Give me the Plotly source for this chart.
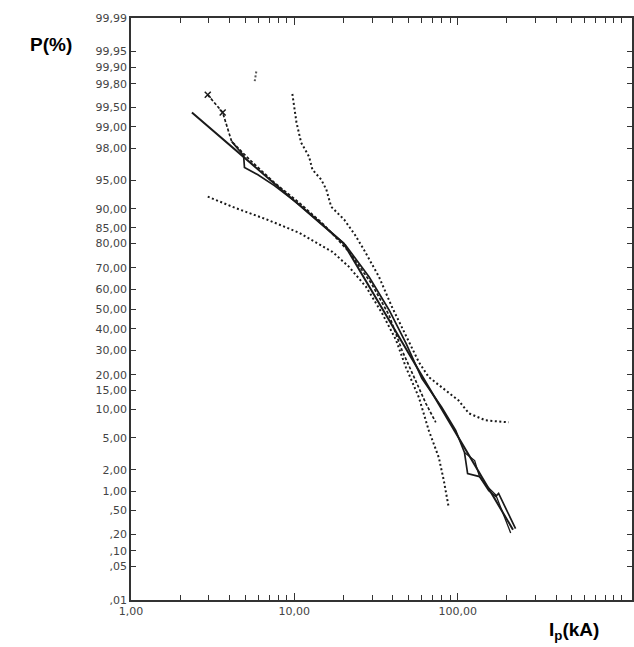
import plotly.graph_objects as go
from statistics import NormalDist

# ---------------- data ----------------
# Y axis: probability scale (percent)
p_ticks = [99.99, 99.95, 99.9, 99.8, 99.5, 99, 98, 95, 90, 85, 80, 70, 60, 50,
           40, 30, 20, 15, 10, 5, 2, 1, 0.5, 0.2, 0.1, 0.05, 0.01]
p_labels = ["99,99", "99,95", "99,90", "99,80", "99,50", "99,00", "98,00", "95,00",
            "90,00", "85,00", "80,00", "70,00", "60,00", "50,00", "40,00", "30,00",
            "20,00", "15,00", "10,00", "5,00", "2,00", "1,00", ",50", ",20", ",10",
            ",05", ",01"]
# X axis: log scale, kA
x_major = [1, 10, 100]
x_major_labels = ["1,00", "10,00", "100,00"]
x_minor = [2, 3, 4, 5, 6, 7, 8, 9, 20, 30, 40, 50, 60, 70, 80, 90,
           200, 300, 400, 500, 600, 700, 800, 900, 1000]

# fitted straight (bilinear) line
fit_I = [2.36, 20.0, 218]
fit_P = [99.4, 80.0, 0.24]

# empirical curve (solid)
emp_I = [4.13, 4.89, 4.95, 5.95, 7.55, 10.7, 14.2, 20.5, 28.7, 38.0, 48.2, 60.3,
         79.8, 97.2, 110, 115, 136, 155, 171, 178, 226]
emp_P = [98.39, 97.51, 96.47, 95.71, 94.26, 90.88, 86.76, 79.4, 65.9, 49.5, 33.1,
         18.8, 10.45, 6.04, 3.34, 1.77, 1.61, 1.01, 0.83, 0.92, 0.25]
# companion line of the empirical curve at the high-current end
emp2_I = [110, 127, 136, 150, 171, 211]
emp2_P = [3.34, 2.64, 1.61, 1.20, 0.88, 0.21]

# curve marked with "x" (dashed)
xc_I = [2.95, 3.64, 4.13, 5.32, 7.55, 10.7, 15.2, 21.6, 29.5, 38.0, 45.6, 55.5, 63.8, 73.4]
xc_P = [99.69, 99.40, 98.39, 97.19, 94.68, 91.3, 85.9, 76.75, 63.0, 46.9, 29.9, 18.1, 11.4, 7.37]
xc_mark_I = [2.95, 3.64]
xc_mark_P = [99.69, 99.40]

# dotted curve starting top (ends flattening at right)
a_I = [9.72, 10.3, 11.0, 12.3, 12.9, 14.6, 15.7, 16.8, 20.2, 23.5, 26.7, 33.0, 39.6,
       52.5, 57.8, 66.5, 84.5, 101, 117, 148, 205]
a_P = [99.70, 99.15, 98.33, 97.43, 96.26, 95.09, 93.65, 90.45, 87.31, 82.85, 77.5,
       65.9, 51.0, 31.3, 24.9, 19.2, 14.96, 12.16, 9.13, 7.74, 7.37]

# dotted curve starting lower left (ends steeply at bottom)
b_I = [2.95, 4.31, 6.84, 10.7, 17.1, 21.6, 27.5, 34.4, 41.9, 48.2, 57.8, 66.5, 76.6, 82.2, 88.1]
b_P = [92.45, 90.23, 87.31, 83.5, 76.75, 70.5, 61.1, 47.9, 34.6, 22.8, 12.97, 6.04, 2.89, 1.42, 0.56]

# small stray mark near the top
speck_I = [5.85, 5.72]
speck_P = [99.88, 99.82]

# ---------------- helpers ----------------
nd = NormalDist()


def pz(vals):
    return [nd.inv_cdf(v / 100.0) for v in vals]


INK = "#1a1a1a"
DOT = "2px,2.5px"
fig = go.Figure()

fig.add_trace(go.Scatter(x=b_I, y=pz(b_P), mode="lines",
                         line=dict(color=INK, width=2, dash=DOT), hoverinfo="skip"))
fig.add_trace(go.Scatter(x=a_I, y=pz(a_P), mode="lines",
                         line=dict(color=INK, width=2, dash=DOT), hoverinfo="skip"))
fig.add_trace(go.Scatter(x=xc_I, y=pz(xc_P), mode="lines",
                         line=dict(color=INK, width=1.7, dash="3px,2px"), hoverinfo="skip"))
fig.add_trace(go.Scatter(x=xc_mark_I, y=pz(xc_mark_P), mode="markers",
                         marker=dict(symbol="x-thin", size=6, line=dict(color=INK, width=1.5)),
                         hoverinfo="skip"))
fig.add_trace(go.Scatter(x=emp2_I, y=pz(emp2_P), mode="lines",
                         line=dict(color=INK, width=1.3), hoverinfo="skip"))
fig.add_trace(go.Scatter(x=emp_I, y=pz(emp_P), mode="lines",
                         line=dict(color=INK, width=1.7), hoverinfo="skip"))
fig.add_trace(go.Scatter(x=fit_I, y=pz(fit_P), mode="lines",
                         line=dict(color=INK, width=2.0), hoverinfo="skip"))
fig.add_trace(go.Scatter(x=speck_I, y=pz(speck_P), mode="lines",
                         line=dict(color="#555", width=2, dash="2px,2px"), hoverinfo="skip"))

tick_font = dict(family="DejaVu Sans", size=11, color="#444")

fig.update_xaxes(type="log", range=[0, 3.067],
                 tickmode="array", tickvals=x_major, ticktext=x_major_labels,
                 ticks="inside", ticklen=7, tickwidth=1.2, tickcolor="#333",
                 minor=dict(tickmode="array", tickvals=x_minor, ticks="inside",
                            ticklen=5, tickwidth=1.1, tickcolor="#333", showgrid=False),
                 showline=True, linecolor="#333", linewidth=1.7, mirror="allticks",
                 showgrid=False, zeroline=False, tickfont=tick_font)
fig.update_yaxes(range=[nd.inv_cdf(0.0001), nd.inv_cdf(0.9999)],
                 tickmode="array", tickvals=pz(p_ticks), ticktext=p_labels,
                 ticks="inside", ticklen=5, tickwidth=1.2, tickcolor="#333",
                 showline=True, linecolor="#333", linewidth=1.7, mirror="ticks",
                 showgrid=False, zeroline=False, tickfont=tick_font)

lab_font = dict(family="Liberation Sans", size=19, color="black")
fig.add_annotation(text="<b>P(%)</b>", xref="paper", yref="paper",
                   x=(51 - 131) / 503, y=(600 - 45) / 582, xanchor="center", yanchor="middle",
                   showarrow=False, font=lab_font)
fig.add_annotation(text="<b>I<sub>p</sub>(kA)</b>", xref="paper", yref="paper",
                   x=(576 - 131) / 503, y=(600 - 631) / 582, xanchor="center", yanchor="middle",
                   showarrow=False, font=lab_font)

fig.update_layout(width=634, height=647, showlegend=False,
                  margin=dict(l=131, r=0, t=18, b=47),
                  plot_bgcolor="white", paper_bgcolor="white")

fig.write_html("out.html")
